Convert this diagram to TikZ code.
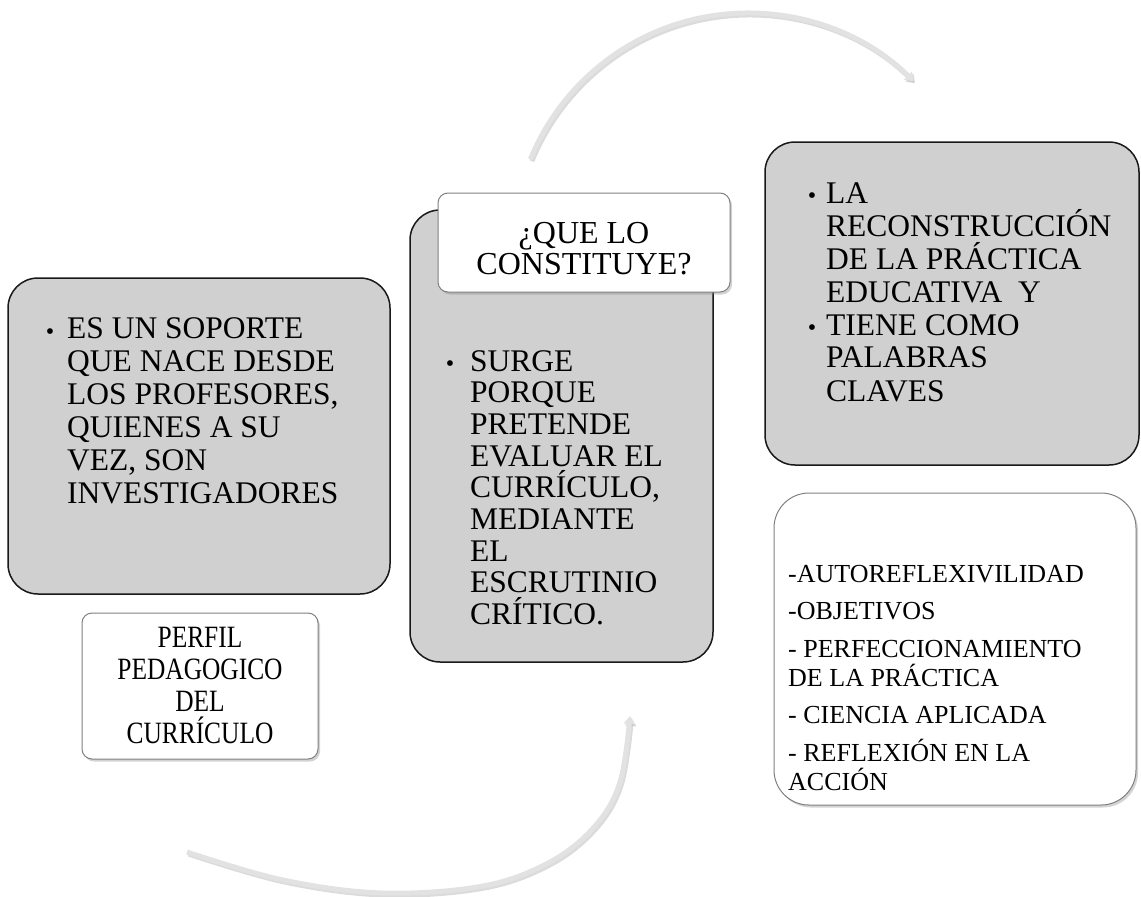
\documentclass[tikz,border=0pt]{standalone}
\usepackage{fontspec}
\usepackage{graphicx}
\setmainfont{Liberation Serif}
\usetikzlibrary{arrows.meta,shadows}
\definecolor{boxgray}{RGB}{208,208,208}
\definecolor{arcgray}{RGB}{226,226,226}
\newcommand{\cnd}[1]{\scalebox{0.82}[1]{#1}}
\begin{document}
\begin{tikzpicture}[x=1pt,y=-1pt,
 graybox/.style={draw=black!90, line width=1.5pt, fill=boxgray, rounded corners=30pt, inner sep=0pt},
 whitebox/.style={draw=black!50, line width=1pt, fill=white, drop shadow={shadow xshift=2pt,shadow yshift=-2.5pt,opacity=0.35}, inner sep=0pt},
 txt/.style={inner sep=0pt, anchor=north west, align=left, font=\fontsize{31.5}{33}\selectfont},
 bul/.style={inner sep=0pt, anchor=base, font=\fontsize{24}{24}\selectfont},
 arcline/.style={line width=5pt, draw=arcgray, -{Triangle[width=11pt,length=8pt]}},
 arcshadow/.style={line width=5pt, draw=black!40, opacity=0.35, -{Triangle[width=11pt,length=8pt]}}
]
\useasboundingbox (0,0) rectangle (1141,897);

% arcs
\coordinate (topstart) at (530.4,159.2);
\coordinate (botstart) at (187,852);
\coordinate (botend) at (630,716);
\draw[arcshadow] ([shift={(1.5,2)}]topstart) arc[start angle=202.2, end angle=314.8, radius=235];
\draw[arcline] (topstart) arc[start angle=202.2, end angle=314.8, radius=235];
\draw[arcshadow] plot[smooth, tension=0.6] coordinates {([shift={(1.5,2)}]botstart) (284.5,882) (384.5,895) (484.5,888) (551.5,864) (596.5,828) (621.5,784) ([shift={(1.5,2)}]botend)};
\draw[arcline] plot[smooth, tension=0.6] coordinates {(botstart) (283,880) (383,893) (483,886) (550,862) (595,826) (620,782) (botend)};

% left
\node[graybox, minimum width=382pt, minimum height=316pt] (leftbox) at (199,436) {};
\node[bul] (leftbul) at (50,339) {\textbullet};
\node[txt] (lefttxt) at (67,317) {ES UN SOPORTE\\QUE NACE DESDE\\LOS PROFESORES,\\QUIENES A SU\\VEZ, SON\\INVESTIGADORES};

\node[whitebox, rounded corners=10pt, minimum width=236pt, minimum height=146pt] (perfil) at (200,686) {};
\node[inner sep=0pt, anchor=north, align=center, font=\fontsize{31}{32}\selectfont] (perfiltxt) at (200,627) {\cnd{PERFIL}\\\cnd{PEDAGOGICO}\\\cnd{DEL}\\\cnd{CURRÍCULO}};

% middle
\node[graybox, minimum width=303pt, minimum height=452pt] (midbox) at (561.5,436) {};
\node[whitebox, rounded corners=10pt, minimum width=292pt, minimum height=99pt] (quebox) at (584,242.5) {};
\node[inner sep=0pt, anchor=north, align=center, font=\fontsize{32}{31}\selectfont] (quetxt) at (584,222) {¿QUE LO\\CONSTITUYE?};
\node[bul] (midbul) at (450,371.5) {\textbullet};
\node[txt, font=\fontsize{31.5}{31.7}\selectfont] (midtxt) at (470,350) {SURGE\\PORQUE\\PRETENDE\\EVALUAR EL\\CURRÍCULO,\\MEDIANTE\\EL\\ESCRUTINIO\\CRÍTICO.};

% right top
\node[graybox, minimum width=374pt, minimum height=323pt] (rtbox) at (952,303.5) {};
\node[bul] (rtbulA) at (812,203.5) {\textbullet};
\node[bul] (rtbulB) at (812,335.5) {\textbullet};
\node[txt] (rttxt) at (826,182) {LA\\RECONSTRUCCIÓN\\DE LA PRÁCTICA\\EDUCATIVA\ \ Y\\TIENE COMO\\PALABRAS\\CLAVES};

% right bottom
\node[whitebox, rounded corners=35pt, minimum width=362pt, minimum height=312pt] (rbbox) at (955,649) {};
\node[txt, font=\fontsize{26}{29}\selectfont] (rbtxt) at (788,565) {-AUTOREFLEXIVILIDAD\\[8.5pt]-OBJETIVOS\\[8.5pt]- PERFECCIONAMIENTO\\DE LA PRÁCTICA\\[8.5pt]- CIENCIA APLICADA\\[8.5pt]- REFLEXIÓN EN LA\\ACCIÓN};
\end{tikzpicture}
\end{document}
